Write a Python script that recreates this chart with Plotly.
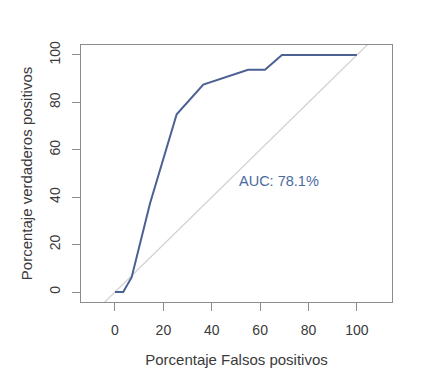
import plotly.graph_objects as go

# ROC curve (percentages)
fpr = [0, 3.4, 6.9, 14.5, 25.5, 36.5, 55.0, 62.0, 69.0, 100.0]
tpr = [0, 0, 6.25, 37.5, 75.0, 87.5, 93.75, 93.75, 100.0, 100.0]

diag_x = [-20, 120]
diag_y = [-20, 120]

x_ticks = [0, 20, 40, 60, 80, 100]
y_ticks = [0, 20, 40, 60, 80, 100]

auc_label = "AUC: 78.1%"
auc_pos = (67.8, 46.7)

FONT = "Liberation Sans, Arial, sans-serif"

fig = go.Figure()
fig.add_trace(go.Scatter(x=diag_x, y=diag_y, mode="lines",
                         line=dict(color="#d2d2d2", width=1.3),
                         hoverinfo="skip", showlegend=False))
fig.add_trace(go.Scatter(x=fpr, y=tpr, mode="lines",
                         line=dict(color="#4b6093", width=2),
                         showlegend=False))

fig.add_annotation(x=auc_pos[0], y=auc_pos[1], text=auc_label, showarrow=False,
                   font=dict(family=FONT, size=14.5, color="#4a6aa0"),
                   xanchor="center", yanchor="middle")

axis_common = dict(
    showgrid=False, zeroline=False, showline=True, mirror=True,
    linecolor="#8c8c8c", linewidth=1, ticks="outside", ticklen=8,
    tickcolor="#8c8c8c", tickwidth=1,
    tickfont=dict(family=FONT, size=14, color="#3a3a3a"),
    title_font=dict(family=FONT, size=15, color="#3a3a3a"),
)

fig.update_layout(
    width=423, height=377,
    margin=dict(l=81, r=31, t=45, b=72),
    paper_bgcolor="white", plot_bgcolor="white",
    xaxis=dict(range=[-14.05, 114.5], tickvals=x_ticks,
               title=dict(text="Porcentaje Falsos positivos", standoff=17),
               ticklabelstandoff=7, **axis_common),
    yaxis=dict(range=[-4.2, 104.2], tickvals=y_ticks, tickangle=-90,
               title=dict(text="Porcentaje verdaderos positivos", standoff=11),
               ticklabelstandoff=6, **axis_common),
)

fig.write_html("out.html")
